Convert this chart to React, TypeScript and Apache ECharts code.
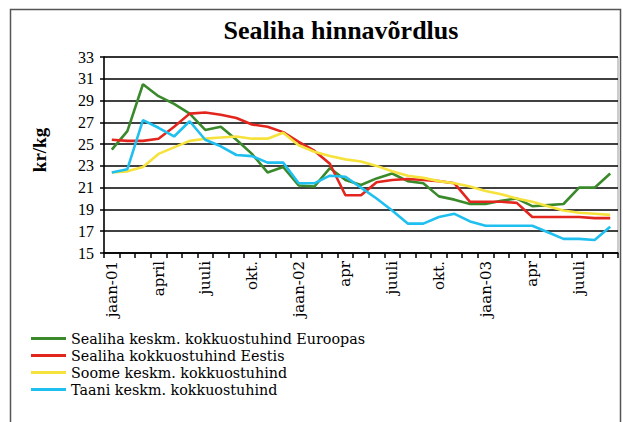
import React, { useEffect, useRef } from "react";
import * as echarts from "echarts";

const monthNames = ["jaan", "veebr", "märts", "apr", "mai", "juuni", "juuli", "aug", "sept", "okt", "nov", "dets"];
const years = ["01", "02", "03"];
const categories: string[] = [];
years.forEach((y) => monthNames.forEach((m) => categories.push(`${m}-${y}`)));
const months = categories.slice(0, 33);

const tickLabels = ["jaan-01", "april", "juuli", "okt.", "jaan-02", "apr", "juuli", "okt.", "jaan-03", "apr", "juuli"];
const yTicks = [15, 17, 19, 21, 23, 25, 27, 29, 31, 33];

const seriesNames = [
  "Sealiha keskm. kokkuostuhind Euroopas",
  "Sealiha kokkuostuhind Eestis",
  "Soome keskm. kokkuostuhind",
  "Taani keskm. kokkuostuhind",
];

const europe = [24.5, 26.2, 30.5, 29.4, 28.7, 27.8, 26.3, 26.6, 25.4, 24.1, 22.4, 22.9, 21.2, 21.1, 22.8, 21.7, 21.25, 21.85, 22.3, 21.6, 21.4, 20.2, 19.9, 19.5, 19.5, 19.8, 20.0, 19.3, 19.4, 19.5, 21.0, 21.0, 22.3];
const estonia = [25.4, 25.3, 25.3, 25.5, 26.6, 27.8, 27.9, 27.7, 27.4, 26.8, 26.6, 26.1, 25.2, 24.4, 23.2, 20.3, 20.3, 21.5, 21.7, 21.8, 21.7, 21.6, 21.4, 19.7, 19.7, 19.7, 19.6, 18.3, 18.3, 18.3, 18.3, 18.2, 18.2];
const finland = [22.4, 22.5, 22.9, 24.1, 24.7, 25.3, 25.5, 25.6, 25.7, 25.5, 25.5, 26.05, 24.9, 24.3, 23.9, 23.6, 23.4, 23.0, 22.5, 22.1, 21.9, 21.6, 21.4, 21.1, 20.7, 20.4, 20.0, 19.7, 19.3, 18.9, 18.7, 18.6, 18.5];
const denmark = [22.4, 22.7, 27.2, 26.5, 25.7, 27.1, 25.4, 24.8, 24.0, 23.9, 23.3, 23.3, 21.4, 21.4, 22.1, 22.0, 21.0, 20.0, 18.9, 17.7, 17.7, 18.3, 18.6, 17.9, 17.5, 17.5, 17.5, 17.5, 16.9, 16.3, 16.3, 16.2, 17.4];

const seriesData = [europe, estonia, finland, denmark];
const colors = ["#3a8a2c", "#e3261d", "#f6e23c", "#1fbfef"];

export default function App() {
  const ref = useRef<HTMLDivElement>(null);
  useEffect(() => {
    if (!ref.current) return;
    const chart = echarts.init(ref.current, null, { renderer: "svg" });
    chart.setOption({
      animation: false,
      backgroundColor: "#ffffff",
      title: {
        text: "Sealiha hinnavõrdlus",
        left: 336,
        top: 12,
        textAlign: "center",
        textStyle: { fontFamily: "Liberation Serif", fontWeight: "bold", fontSize: 26, color: "#000" },
      },
      graphic: [
        {
          type: "rect",
          shape: { x: 10.5, y: 9.5, width: 610, height: 430 },
          style: { fill: "none", stroke: "#555", lineWidth: 1.5 },
          silent: true,
        },
        {
          type: "text",
          x: 39,
          y: 150,
          rotation: Math.PI / 2,
          style: {
            text: "kr/kg",
            fontFamily: "Liberation Serif",
            fontWeight: "bold",
            fontSize: 19,
            fill: "#000",
            align: "center",
            verticalAlign: "middle",
          },
        },
      ],
      legend: {
        orient: "vertical",
        left: 26,
        top: 326,
        icon: "rect",
        itemWidth: 35,
        itemHeight: 3,
        itemGap: 2,
        data: seriesNames,
        textStyle: { fontFamily: "DejaVu Serif", fontSize: 14.3, color: "#000", lineHeight: 15 },
      },
      grid: { left: 104, right: 5, top: 57, bottom: 169, show: true, borderColor: "#999", borderWidth: 1 },
      xAxis: {
        type: "category",
        data: months,
        boundaryGap: true,
        axisLine: { lineStyle: { color: "#000", width: 1.5 } },
        axisTick: { show: true, interval: 0, length: 5, lineStyle: { color: "#000", width: 1.5 } },
        axisLabel: {
          interval: 2,
          rotate: 90,
          margin: 8,
          fontFamily: "DejaVu Serif",
          fontSize: 15,
          color: "#000",
          formatter: (_v: string, idx: number) => tickLabels[Math.round(idx / 3)] ?? "",
        },
        splitLine: { show: false },
      },
      yAxis: {
        type: "value",
        min: yTicks[0],
        max: yTicks[yTicks.length - 1],
        interval: 2,
        axisLine: { show: true, lineStyle: { color: "#000", width: 1.5 } },
        axisTick: { show: true, length: 4, lineStyle: { color: "#000", width: 1.5 } },
        axisLabel: { fontFamily: "Liberation Serif", fontSize: 16, color: "#000", margin: 10 },
        splitLine: { show: true, lineStyle: { color: "#000", width: 1.5 } },
      },
      series: seriesNames.map((name, i) => ({
        name,
        type: "line",
        data: seriesData[i],
        symbol: "none",
        color: colors[i],
        lineStyle: { color: colors[i], width: 2.6 },
      })),
    });
    return () => chart.dispose();
  }, []);
  return <div ref={ref} style={{ position: "absolute", left: 0, top: 0, width: 623, height: 422 }} />;
}
